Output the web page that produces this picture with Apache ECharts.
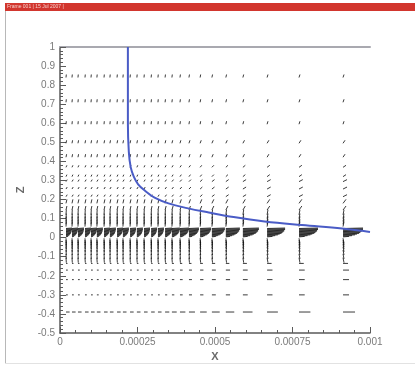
<!DOCTYPE html>
<html>
<head>
<meta charset="utf-8">
<style>
  html, body { margin: 0; padding: 0; background: #ffffff; }
  #chart { width: 415px; height: 373px; }
</style>
<script src="https://cdn.jsdelivr.net/npm/echarts@6/dist/echarts.min.js"></script>
</head>
<body>
<div id="chart"></div>
<script>
// Grid columns (x) of the vector field, stretched towards x = 0.001
var xCols = [0.0000194, 0.0000387, 0.000058, 0.0000806, 0.0001, 0.000119, 0.000142,
  0.000161, 0.000184, 0.000203, 0.000226, 0.000248, 0.000271, 0.000294, 0.000316,
  0.000339, 0.000361, 0.000387, 0.000416, 0.000452, 0.00049, 0.000535, 0.00059,
  0.000668, 0.000771, 0.000913];

// Grid rows (z), clustered near the wall at z = 0
var zRows = [0.84, 0.71, 0.595, 0.495, 0.422, 0.369, 0.32, 0.294, 0.255, 0.215,
  0.18, 0.145, 0.12, 0.1, 0.085, 0.07, 0.058,
  0.048, 0.044, 0.04, 0.036, 0.032, 0.028, 0.024, 0.02, 0.016, 0.012, 0.008, 0.004,
  -0.003, -0.012, -0.022, -0.034, -0.048, -0.065, -0.085, -0.105, -0.135,
  -0.17, -0.22, -0.3, -0.39];

// Velocity components along each row (u horizontal, w vertical)
var rowU = [1, 1, 1, 2, 2, 3, 3, 4, 4, 4,
  3, 3, 1, 1, 1, 1, 1,
  20, 20, 20, 19, 19, 18, 17, 16, 14, 12, 9, 6,
  1, 1, 1, 1, 1, 1, 1, 1, 5,
  6, 6, 6, 12];
var rowW = [3, 3, 3, 3, 3, 2, 2, 2, 2, 2,
  4, 4, 5, 5, 5, 5, 5,
  0.5, 0.5, 0.5, 0.5, 0.5, 0.5, 0.5, 0.5, 0.5, 0.5, 0.5, 0.5,
  -5, -5, -5, -5, -5, -5, -5, -5, 0,
  0, 0, 0, 0];

// Relative streamwise growth of u from column to column
var colU = [0.3, 0.3, 0.3, 0.3, 0.3, 0.3, 0.3, 0.3, 0.3, 0.3, 0.3, 0.3, 0.3,
  0.3, 0.3, 0.35, 0.4, 0.45, 0.5, 0.55, 0.65, 0.7, 0.8, 0.9, 0.95, 1.0];

// Boundary-layer edge curve
var edgeX = [0.000219, 0.000219, 0.000222, 0.000228, 0.000238, 0.000252, 0.000275,
  0.000305, 0.00035, 0.00041, 0.00048, 0.00056, 0.00066, 0.00078, 0.00091, 0.001];
var edgeZ = [1.0, 0.6, 0.45, 0.37, 0.32, 0.28, 0.245,
  0.21, 0.18, 0.155, 0.132, 0.108, 0.085, 0.066, 0.048, 0.03];

// Tick labels
var xTicks = ['0', '0.00025', '0.0005', '0.00075', '0.001'];

var vectors = [];
for (var i = 0; i < xCols.length; i++) {
  for (var j = 0; j < zRows.length; j++) {
    vectors.push([xCols[i], zRows[j], rowU[j] * colU[i], rowW[j]]);
  }
}
var edge = edgeX.map(function (x, k) { return [x, edgeZ[k]]; });

var chart = echarts.init(document.getElementById('chart'), null, { renderer: 'canvas' });

var labelFont = { color: '#7a7a7a', fontSize: 10, fontFamily: 'Liberation Sans, Arial, sans-serif' };

chart.setOption({
  animation: false,
  backgroundColor: '#ffffff',
  grid: { left: 60, right: 45, top: 47, bottom: 40 },
  graphic: [
    { type: 'rect', shape: { x: 5, y: 3, width: 410, height: 8 }, style: { fill: '#d2362e' }, silent: true },
    { type: 'text', left: 7, top: 4, style: { text: 'Frame 001 | 15 Jul 2007 |', fill: '#f4d0cc', fontSize: 5, fontFamily: 'Liberation Sans, Arial, sans-serif' }, silent: true },
    { type: 'line', shape: { x1: 5.5, y1: 11, x2: 5.5, y2: 363 }, style: { stroke: '#b8b8b8', lineWidth: 1 }, silent: true },
    { type: 'line', shape: { x1: 5, y1: 363.5, x2: 415, y2: 363.5 }, style: { stroke: '#e2e2e2', lineWidth: 1 }, silent: true }
  ],
  xAxis: [{
    type: 'value', min: 0, max: 0.001, interval: 0.00025,
    name: 'X', nameLocation: 'middle', nameGap: 16,
    nameTextStyle: { color: '#6a6a6a', fontSize: 11, fontWeight: 'bold', fontFamily: 'Liberation Sans, Arial, sans-serif' },
    axisLine: { onZero: false, lineStyle: { color: '#5a5a5a', width: 1.5 } },
    axisTick: { inside: true, length: 6, lineStyle: { color: '#5a5a5a' } },
    minorTick: { show: true, splitNumber: 5, length: 3, lineStyle: { color: '#5a5a5a' } },
    axisLabel: Object.assign({ margin: 4, formatter: function (v) { return xTicks[Math.round(v / 0.00025)]; } }, labelFont),
    splitLine: { show: false }
  }, {
    type: 'value', min: 0, max: 0.001, position: 'top',
    axisLine: { onZero: false, lineStyle: { color: '#a9a9b0', width: 2 } },
    axisTick: { show: false }, axisLabel: { show: false }, splitLine: { show: false }
  }],
  yAxis: {
    type: 'value', min: -0.5, max: 1, interval: 0.1,
    name: 'Z', nameLocation: 'middle', nameGap: 33, nameRotate: 90,
    nameTextStyle: { color: '#6a6a6a', fontSize: 11, fontWeight: 'bold', fontFamily: 'Liberation Sans, Arial, sans-serif' },
    axisLine: { onZero: false, lineStyle: { color: '#5a5a5a', width: 1.5 } },
    axisTick: { inside: true, length: 6, lineStyle: { color: '#5a5a5a' } },
    minorTick: { show: true, splitNumber: 5, length: 3, lineStyle: { color: '#5a5a5a' } },
    axisLabel: Object.assign({ margin: 5, formatter: function (v) { return String(+v.toFixed(1)); } }, labelFont),
    splitLine: { show: false }
  },
  series: [{
    type: 'custom',
    data: vectors,
    clip: true,
    renderItem: function (params, api) {
      var p = api.coord([api.value(0), api.value(1)]);
      var u = api.value(2), w = api.value(3);
      return {
        type: 'line',
        shape: { x1: p[0], y1: p[1], x2: p[0] + u, y2: p[1] - w },
        style: { stroke: 'rgba(10,10,10,0.8)', lineWidth: 1 }
      };
    }
  }, {
    type: 'line',
    data: edge,
    showSymbol: false,
    smooth: 0.4,
    lineStyle: { color: '#4a5cc6', width: 2 },
    z: 5
  }]
});
</script>
</body>
</html>
